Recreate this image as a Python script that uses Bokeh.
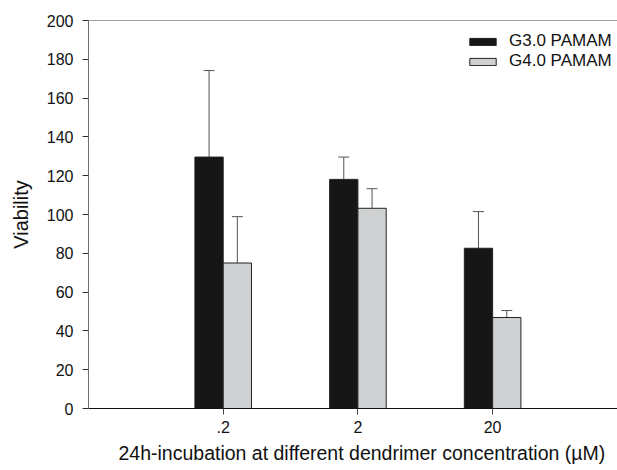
from bokeh.plotting import figure
from bokeh.models import (ColumnDataSource, FixedTicker, Whisker,
                          TeeHead, Legend, LegendItem, Span, Title)
from bokeh.embed import file_html
from bokeh.resources import INLINE

# data
categories = [".2", "2", "20"]
g3_values = [129.6, 118.1, 82.6]
g3_errors = [44.6, 11.5, 18.9]
g4_values = [75.0, 103.2, 46.9]
g4_errors = [23.9, 10.1, 3.6]
y_ticks = [0, 20, 40, 60, 80, 100, 120, 140, 160, 180, 200]

FONT = "Liberation Sans"
bar_w = 0.21
pos = [i + 1 for i in range(len(categories))]

src3 = ColumnDataSource(dict(
    x=[p - bar_w / 2 for p in pos], top=g3_values,
    lower=g3_values, upper=[v + e for v, e in zip(g3_values, g3_errors)]))
src4 = ColumnDataSource(dict(
    x=[p + bar_w / 2 for p in pos], top=g4_values,
    lower=g4_values, upper=[v + e for v, e in zip(g4_values, g4_errors)]))

p = figure(width=617, height=470, x_range=(0, 3.927), y_range=(0, 200),
           output_backend="svg", toolbar_location=None,
           min_border_left=88, min_border_right=0, min_border_top=20, min_border_bottom=62)
p.outline_line_color = None
p.xgrid.visible = False
p.ygrid.visible = False
p.background_fill_color = "white"
p.border_fill_color = "white"

r3 = p.vbar(x="x", top="top", width=bar_w, source=src3, fill_color="#161616",
            line_color="#222222", line_width=1)
r4 = p.vbar(x="x", top="top", width=bar_w, source=src4, fill_color="#cfd0d2",
            line_color="#222222", line_width=1)

for s in (src3, src4):
    w = Whisker(source=s, base="x", lower="lower", upper="upper", dimension="height",
                line_color="#555555", line_width=1, lower_head=None,
                upper_head=TeeHead(size=11, line_color="#555555", line_width=1))
    p.add_layout(w)

p.add_layout(Span(location=200, dimension="width", line_color="#444444", line_width=1))

# axes
xa = p.xaxis[0]
xa.ticker = FixedTicker(ticks=pos)
xa.major_label_overrides = {pp: c for pp, c in zip(pos, categories)}
xa.minor_tick_line_color = None
xa.major_tick_in = 0
xa.major_tick_out = 6
xa.axis_line_color = "#111111"
xa.major_tick_line_color = "#444444"
xa.major_label_text_font = FONT
xa.major_label_text_font_size = "16px"
xa.major_label_text_color = "#111111"
xa.major_label_standoff = 6

ya = p.yaxis[0]
ya.ticker = FixedTicker(ticks=y_ticks)
ya.minor_tick_line_color = None
ya.major_tick_in = 0
ya.major_tick_out = 6
ya.axis_line_color = "#707070"
ya.major_tick_line_color = "#333333"
ya.major_label_text_font = FONT
ya.major_label_text_font_size = "16px"
ya.major_label_text_color = "#111111"
ya.major_label_standoff = 9
ya.axis_label = "Viability"
ya.axis_label_text_font = FONT
ya.axis_label_text_font_size = "20px"
ya.axis_label_text_font_style = "normal"
ya.axis_label_text_color = "#111111"
ya.axis_label_standoff = 12

xtitle = Title(text="24h-incubation at different dendrimer concentration (\u00b5M)",
               align="left", offset=30, standoff=9,
               text_font=FONT, text_font_size="19.5px", text_font_style="normal",
               text_color="#111111")
p.add_layout(xtitle, "below")

legend = Legend(items=[LegendItem(label="G3.0 PAMAM", renderers=[r3]),
                       LegendItem(label="G4.0 PAMAM", renderers=[r4])],
                location=(378, 337), glyph_width=33, glyph_height=9,
                label_text_font=FONT, label_text_font_size="17px",
                label_text_color="#111111", label_standoff=10, label_height=17,
                padding=0, margin=0, spacing=-3,
                border_line_color=None, background_fill_alpha=0)
p.add_layout(legend)

open("out.html", "w").write(file_html(p, INLINE))
